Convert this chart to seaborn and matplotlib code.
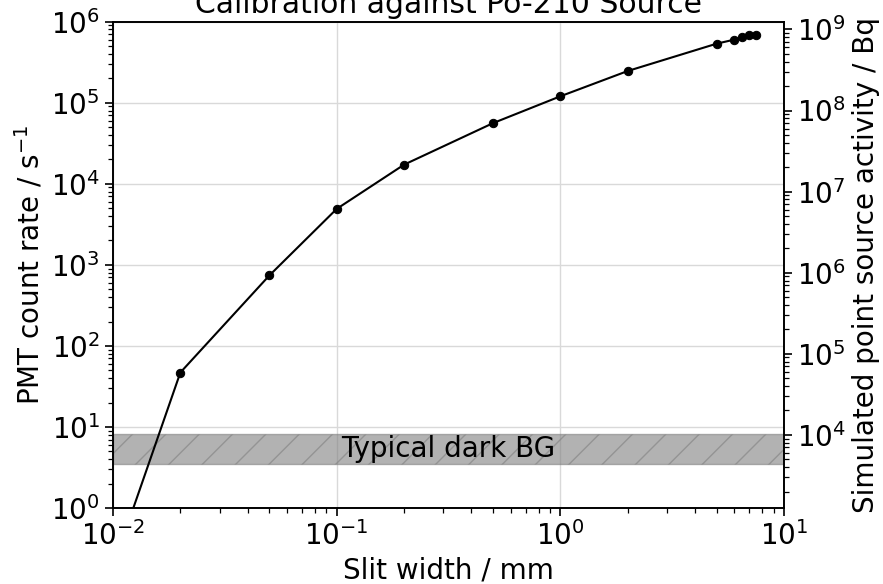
import numpy as np
import matplotlib
matplotlib.use("Agg")
import matplotlib.pyplot as plt
import seaborn as sns

# slit width (mm) vs PMT count rate (1/s)
slit_width = [0.01, 0.02, 0.05, 0.1, 0.2, 0.5, 1.0, 2.0, 5.0, 6.0, 6.5, 7.0, 7.5]
count_rate = [0.19, 47, 740, 4.9e3, 1.72e4, 5.6e4, 1.2e5, 2.46e5, 5.35e5, 6.0e5, 6.4e5, 6.8e5, 6.8e5]

# dark background band (1/s)
bg_low = 3.5
bg_high = 8.1

# count rate -> activity scale factor for the right axis
activity_per_count = 1.25e3

xlim = (1e-2, 1e1)
ylim = (1e0, 1e6)

sns.set_style("ticks", rc={"text.color": "black", "axes.labelcolor": "black",
                           "xtick.color": "black", "ytick.color": "black",
                           "axes.edgecolor": "black"})
plt.rcParams['font.family'] = ['DejaVu Sans']
plt.rcParams['font.size'] = 20

fig = plt.figure(figsize=(8.83, 5.84), dpi=100)
ax = fig.add_axes([0.128, 0.130, 0.760, 0.833])

ax.set_xscale("log")
ax.set_yscale("log")

sns.lineplot(x=slit_width, y=count_rate, ax=ax, color="black", marker="o",
             markersize=6, markeredgecolor="black", linewidth=1.5, zorder=5)

ax.axhspan(bg_low, bg_high, color="grey", alpha=0.6, hatch="/", zorder=2)
ax.text(np.sqrt(xlim[0] * xlim[1]), np.sqrt(bg_low * bg_high), "Typical dark BG",
        ha="center", va="center", fontsize=20, zorder=6)

ax.set_xlim(*xlim)
ax.set_ylim(*ylim)
ax.grid(True, which="major", color="0.85", linewidth=1.0, zorder=0)
ax.set_axisbelow(True)

ax.set_xlabel("Slit width / mm", fontsize=20)
ax.set_ylabel("PMT count rate / s$^{-1}$", fontsize=20)
ax.set_title("Calibration against Po-210 Source", fontsize=21.5)

ax2 = ax.twinx()
ax2.set_yscale("log")
ax2.set_ylim(ylim[0] * activity_per_count, ylim[1] * activity_per_count)
ax2.set_ylabel("Simulated point source activity / Bq", fontsize=20)
ax2.grid(False)

for a in (ax, ax2):
    for s in a.spines.values():
        s.set_visible(True)
        s.set_linewidth(1.2)
        s.set_color("black")
    a.tick_params(which="major", direction="out", length=6, width=1.2, labelsize=20, color="black")
    a.tick_params(which="minor", direction="out", length=3.5, width=0.9, color="black")

fig.savefig("out.png", dpi=100)
